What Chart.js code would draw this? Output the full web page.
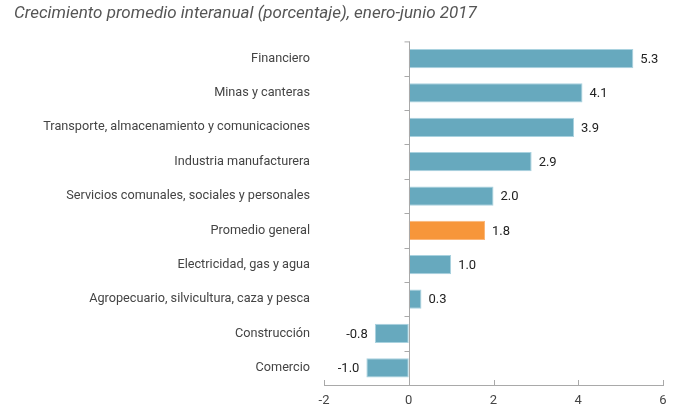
<!DOCTYPE html>
<html>
<head>
<meta charset="utf-8">
<script src="https://cdn.jsdelivr.net/npm/chart.js@4.4.1/dist/chart.umd.min.js"></script>
<style>
  html, body { margin: 0; padding: 0; background: #fff; }
  #wrap { width: 679px; height: 410px; position: relative; }
</style>
</head>
<body>
<div id="wrap"><canvas id="myChart"></canvas></div>
<script>
// data
const sectores = [
    "Financiero",
    "Minas y canteras",
    "Transporte, almacenamiento y comunicaciones",
    "Industria manufacturera",
    "Servicios comunales, sociales y personales",
    "Promedio general",
    "Electricidad, gas y agua",
    "Agropecuario, silvicultura, caza y pesca",
    "Construcción",
    "Comercio"
];
const crecimiento = [5.3, 4.1, 3.9, 2.9, 2.0, 1.8, 1.0, 0.3, -0.8, -1.0];
const destacado = "Promedio general";
const xTicks = [-2, 0, 2, 4, 6];

const azul = '#67a9be';
const naranja = '#f7963a';
const gris = '#a9a9a9';

// zero line, small category marks, upward x ticks and value labels
const axisMarks = {
    id: 'axisMarks',
    afterDatasetsDraw(chart) {
        let ctx = chart.ctx;
        let x = chart.scales.x;
        let y = chart.scales.y;
        let area = chart.chartArea;
        let x0 = Math.round(x.getPixelForValue(0)) + 0.5;

        ctx.save();
        ctx.strokeStyle = gris;
        ctx.lineWidth = 1;
        ctx.beginPath();
        ctx.moveTo(x0, area.top);
        ctx.lineTo(x0, area.bottom);
        // marks between categories
        for (let i = 1; i < sectores.length; i++) {
            let yy = Math.round((y.getPixelForValue(i - 1) + y.getPixelForValue(i)) / 2) + 0.5;
            ctx.moveTo(x0 - 5, yy);
            ctx.lineTo(x0, yy);
        }
        ctx.moveTo(x0 - 5, area.top + 0.5);
        ctx.lineTo(x0, area.top + 0.5);
        // x ticks pointing up
        xTicks.forEach(function(v) {
            let xx = Math.round(x.getPixelForValue(v)) + 0.5;
            ctx.moveTo(xx, area.bottom);
            ctx.lineTo(xx, area.bottom - 5);
        });
        ctx.stroke();

        // value labels
        ctx.fillStyle = '#222';
        ctx.font = '13px Roboto';
        ctx.textBaseline = 'middle';
        let meta = chart.getDatasetMeta(0);
        meta.data.forEach(function(bar, i) {
            let v = crecimiento[i];
            let txt = v.toFixed(1);
            if (v >= 0) {
                ctx.textAlign = 'left';
                ctx.fillText(txt, bar.x + 7, bar.y + 1);
            } else {
                ctx.textAlign = 'right';
                ctx.fillText(txt, bar.x - 7, bar.y + 1);
            }
        });
        ctx.restore();
    }
};

let popCanvas = document.getElementById("myChart").getContext("2d");
let barChart = new Chart(popCanvas, {
    type: 'bar',
    data: {
        labels: sectores,
        datasets: [{
            label: 'Crecimiento',
            data: crecimiento,
            backgroundColor: sectores.map(s => s === destacado ? naranja : azul),
            borderColor: sectores.map(s => s === destacado ? '#fbb77a' : '#a9d2df'),
            borderWidth: 1,
            borderSkipped: false,
            categoryPercentage: 1,
            barPercentage: 0.56
        }]
    },
    options: {
        indexAxis: 'y',
        responsive: true,
        maintainAspectRatio: false,
        animation: false,
        layout: { padding: { top: 0, right: 16, bottom: 0, left: 14 } },
        plugins: {
            legend: { display: false },
            tooltip: { enabled: false },
            title: {
                display: true,
                text: 'Crecimiento promedio interanual (porcentaje), enero-junio 2017',
                align: 'start',
                color: '#555',
                font: { family: 'Roboto', size: 17, style: 'italic', weight: 'normal', lineHeight: 1.2 },
                padding: { top: 4, bottom: 17 }
            }
        },
        scales: {
            x: {
                min: -2,
                max: 6,
                afterBuildTicks: function(axis) {
                    axis.ticks = xTicks.map(v => ({ value: v }));
                },
                afterFit: function(axis) { axis.height = 25; },
                grid: { display: false, drawTicks: false },
                border: { display: true, color: gris, width: 1 },
                ticks: {
                    color: '#444',
                    padding: 8,
                    font: { family: 'Roboto', size: 13 }
                }
            },
            y: {
                afterFit: function(axis) { axis.width = 310; },
                grid: { display: false, drawTicks: false },
                border: { display: false },
                ticks: {
                    color: '#444',
                    padding: 14,
                    autoSkip: false,
                    font: { family: 'Roboto', size: 12.7 }
                }
            }
        }
    },
    plugins: [axisMarks]
});
</script>
</body>
</html>
